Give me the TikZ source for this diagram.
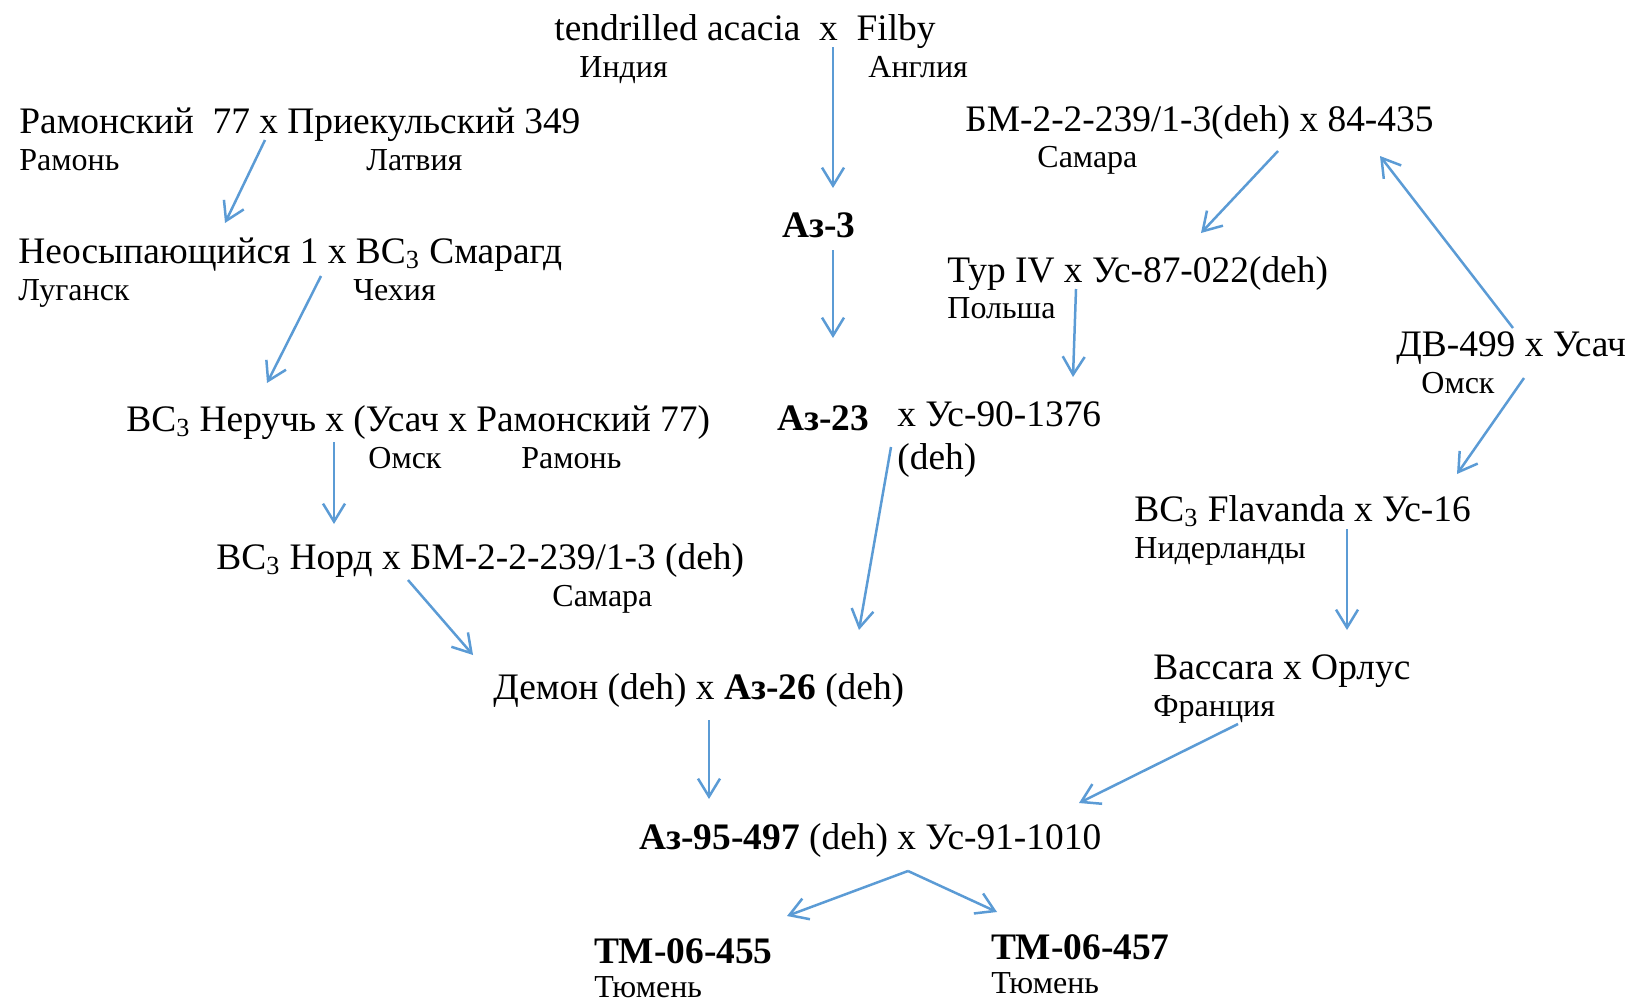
\documentclass[tikz,border=0pt]{standalone}
\usepackage{fontspec}
\setmainfont{Liberation Serif}
\usetikzlibrary{arrows.meta}
\definecolor{linkblue}{HTML}{5B9BD5}

\begin{document}
\begin{tikzpicture}[x=0.5pt,y=-0.5pt,
          cross/.style={anchor=base west, inner sep=0pt,
                        font=\fontsize{18.7}{22}\selectfont},
          place/.style={anchor=base west, inner sep=0pt,
                        font=\fontsize{16}{19}\selectfont},
          line/.style={anchor=base west, inner sep=0pt,
                       font=\fontsize{18.7}{22}\selectfont\bfseries},
          arr/.style={-{Straight Barb[length=9pt,width=11pt]}, linkblue,
                      line width=1.25pt}
        ]
          \useasboundingbox (0,0) rectangle (1631,1001);
          % top cross
          \node[cross] (acacia) at (554,40) {tendrilled acacia~ x~ Filby};
          \node[place] (india) at (579,77) {Индия};
          \node[place] (england) at (868,77) {Англия};
          % left column
          \node[cross] (ramon) at (19,133) {Рамонский~ 77 x Приекульский 349};
          \node[place] (ramonpl) at (19,170) {Рамонь};
          \node[place] (latvia) at (366,170) {Латвия};
          \node[cross] (neos) at (18,263) {Неосыпающийся 1 x BC\textsubscript{3} Смарагд};
          \node[place] (lugansk) at (18,300) {Луганск};
          \node[place] (czech) at (353,300) {Чехия};
          \node[cross] (neruch) at (126,431) {BC\textsubscript{3} Неручь x (Усач x Рамонский 77)};
          \node[place] (omsk) at (368,468) {Омск};
          \node[place] (ramonpl2) at (521,468) {Рамонь};
          \node[cross] (nord) at (216,569) {BC\textsubscript{3} Норд x БМ-2-2-239/1-3 (deh)};
          \node[place] (samara) at (552,606) {Самара};
          % middle column
          \node[line] (az3) at (782,237) {Аз-3};
          \node[line] (az23) at (777,430) {Аз-23};
          \node[cross] (us90) at (897,426) {x Ус-90-1376};
          \node[cross] (us90deh) at (897,469) {(deh)};
          \node[cross] (demon) at (493,699) {Демон (deh) x \textbf{Аз-26} (deh)};
          \node[cross] (az95) at (639,849) {\textbf{Аз-95-497} (deh) x Ус-91-1010};
          \node[line] (tm455) at (594,963) {ТМ-06-455};
          \node[place] (tyumen1) at (594,997) {Тюмень};
          \node[line] (tm457) at (991,959) {ТМ-06-457};
          \node[place] (tyumen2) at (991,993) {Тюмень};
          % right column
          \node[cross] (bm) at (965,131) {БМ-2-2-239/1-3(deh) x 84-435};
          \node[place] (samara2) at (1037,167) {Самара};
          \node[cross] (tur) at (947,282) {Тур IV x Ус-87-022(deh)};
          \node[place] (poland) at (947,318) {Польша};
          \node[cross] (dv) at (1396,356) {ДВ-499 x Усач};
          \node[place] (omsk2) at (1421,393) {Омск};
          \node[cross] (flav) at (1134,521) {BC\textsubscript{3} Flavanda x Ус-16};
          \node[place] (nether) at (1134,558) {Нидерланды};
          \node[cross] (baccara) at (1153,679) {Baccara x Орлус};
          \node[place] (france) at (1153,716) {Франция};
          % arrow ends
          \coordinate (a1) at (833,47);   \coordinate (a2) at (833,188);
          \coordinate (b1) at (265,140);  \coordinate (b2) at (225,223);
          \coordinate (c1) at (321,276);  \coordinate (c2) at (267,383);
          \coordinate (d1) at (334,442);  \coordinate (d2) at (334,524);
          \coordinate (e1) at (408,580);  \coordinate (e2) at (473,655);
          \coordinate (f1) at (833,250);  \coordinate (f2) at (833,338);
          \coordinate (g1) at (891,447);  \coordinate (g2) at (859,630);
          \coordinate (h1) at (709,720);  \coordinate (h2) at (709,799);
          \coordinate (i1) at (1278,151); \coordinate (i2) at (1201,233);
          \coordinate (j1) at (1076,289); \coordinate (j2) at (1073,377);
          \coordinate (k1) at (1513,328); \coordinate (k2) at (1380,156);
          \coordinate (l1) at (1524,378); \coordinate (l2) at (1457,474);
          \coordinate (m1) at (1347,529); \coordinate (m2) at (1347,630);
          \coordinate (n1) at (1238,724); \coordinate (n2) at (1079,803);
          \coordinate (split) at (908,871);
          \coordinate (o2) at (787,916);  \coordinate (p2) at (997,912);
          \draw[arr] (a1) -- (a2);
          \draw[arr] (b1) -- (b2);
          \draw[arr] (c1) -- (c2);
          \draw[arr] (d1) -- (d2);
          \draw[arr] (e1) -- (e2);
          \draw[arr] (f1) -- (f2);
          \draw[arr] (g1) -- (g2);
          \draw[arr] (h1) -- (h2);
          \draw[arr] (i1) -- (i2);
          \draw[arr] (j1) -- (j2);
          \draw[arr] (k1) -- (k2);
          \draw[arr] (l1) -- (l2);
          \draw[arr] (m1) -- (m2);
          \draw[arr] (n1) -- (n2);
          \draw[arr] (split) -- (o2);
          \draw[arr] (split) -- (p2);
        \end{tikzpicture}
\end{document}
